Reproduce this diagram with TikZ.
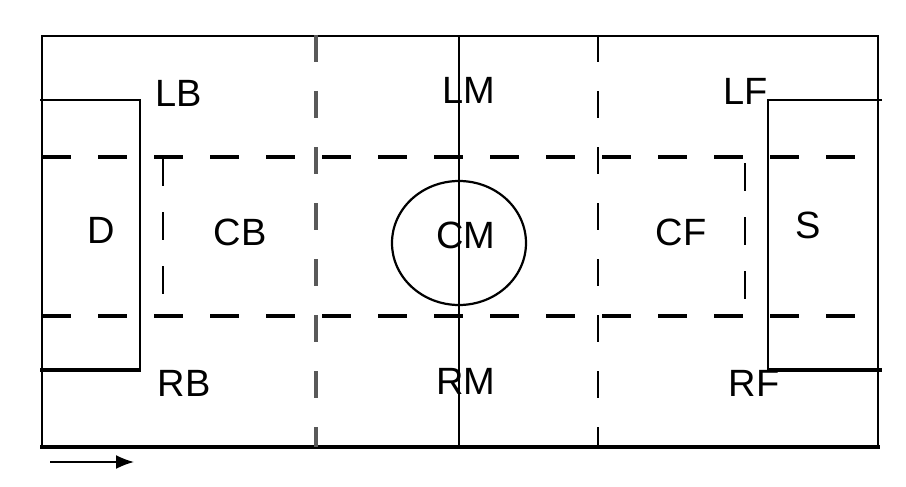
\documentclass[tikz,border=0pt]{standalone}
\usepackage{fontspec}
\setmainfont{Liberation Sans}
\usetikzlibrary{arrows.meta}
\begin{document}
\begin{tikzpicture}[x=1pt,y=-1pt,
  lbl/.style={font=\fontsize{38}{40}\selectfont, inner sep=0pt, text height=27pt, text depth=0pt, anchor=center},
  solidline/.style={line width=2pt, black},
  heavyline/.style={line width=3.4pt, black},
  hdash/.style={line width=3.2pt, black, dash pattern=on 29pt off 27pt},
  vdash/.style={line width=3.2pt, black!65, dash pattern=on 27pt off 29pt},
  vdashthin/.style={line width=2.2pt, black, dash pattern=on 27pt off 29pt},
  idash/.style={line width=2pt, black, dash pattern=on 28pt off 26pt}]
\useasboundingbox (0,0) rectangle (906,487);
% outer field
\draw[solidline] (42,447) -- (42,36) -- (878,36) -- (878,447);
\draw[heavyline] (40,447) -- (880,447);
% halfway line
\draw[solidline] (459,36) -- (459,447);
% D box and S box
\draw[solidline] (40,100) -- (140,100) -- (140,370);
\draw[heavyline] (40,370) -- (141,370);
\draw[solidline] (882,100) -- (768,100) -- (768,370);
\draw[heavyline] (767,370) -- (882,370);
% horizontal dashed lines
\draw[hdash] (42,157) -- (855,157);
\draw[hdash] (42,316) -- (855,316);
% vertical dashed lines
\draw[vdash] (316,35) -- (316,447);
\draw[vdashthin] (598,35) -- (598,447);
% inner dashed sides
\draw[idash] (163,158) -- (163,316);
\draw[idash] (745,163) -- (745,316);
% centre circle
\draw[line width=2.2pt] (459,243) ellipse [x radius=67, y radius=62];
% labels
\node[lbl] (LB) at (179,93) {LB};
\node[lbl] (LM) at (469,90) {LM};
\node[lbl] (LF) at (746,91) {LF};
\node[lbl] (D) at (101,230) {D};
\node[lbl] (CB) at (240,232) {CB};
\node[lbl] (CM) at (466,235) {CM};
\node[lbl] (CF) at (681,232) {CF};
\node[lbl] (S) at (808,225) {S};
\node[lbl] (RB) at (184,383) {RB};
\node[lbl] (RM) at (466,381) {RM};
\node[lbl] (RF) at (754,383) {RF};
% direction arrow
\coordinate (arrA) at (50,462);
\coordinate (arrB) at (134,462);
\draw[line width=1.8pt, -{Latex[length=18pt,width=14pt]}] (arrA) -- (arrB);
\end{tikzpicture}
\end{document}
